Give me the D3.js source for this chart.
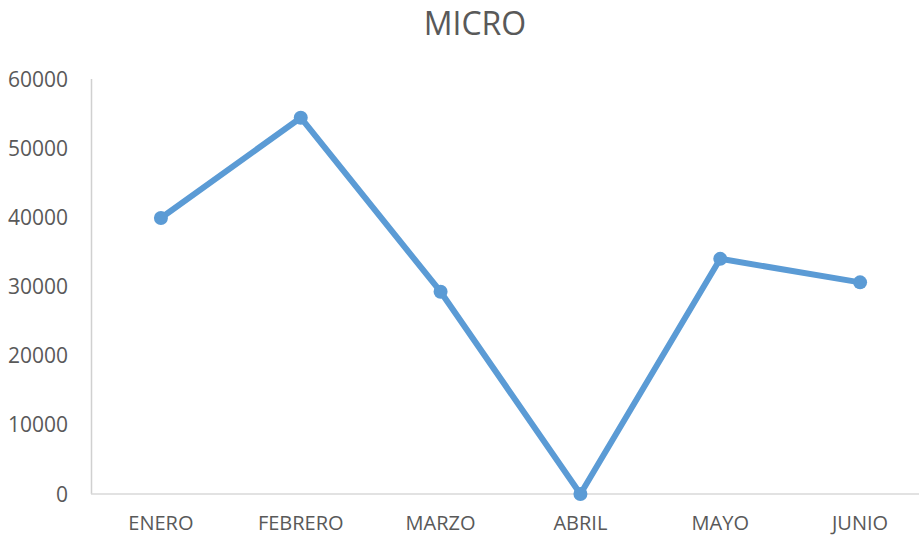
<!DOCTYPE html>
<html>
<head>
<meta charset="utf-8">
<script src="https://cdn.jsdelivr.net/npm/d3@7"></script>
<style>
	body { margin: 0; background: #fff; }
	text { font-family: "Open Sans", sans-serif; fill: #595959; }
</style>
</head>
<body>
<svg width="919" height="536"></svg>
<script>
var months = ["ENERO", "FEBRERO", "MARZO", "ABRIL", "MAYO", "JUNIO"];
var micro = [39900, 54400, 29250, 0, 34000, 30600];
var yTicks = [0, 10000, 20000, 30000, 40000, 50000, 60000];

var svg = d3.select("svg"),
	plotLeft = 91,
	plotRight = 930,
	plotTop = 79,
	plotBottom = 494;

var x = d3.scaleBand()
	.domain(months)
	.range([plotLeft, plotRight]);

var y = d3.scaleLinear()
	.domain([0, 60000])
	.range([plotBottom, plotTop]);

svg.append("text")
	.attr("x", 475)
	.attr("y", 35)
	.attr("text-anchor", "middle")
	.style("font-size", "32px")
	.text("MICRO");

// y labels
svg.selectAll(".ylab")
	.data(yTicks)
	.enter().append("text")
	.attr("class", "ylab")
	.attr("x", 68)
	.attr("y", function(d) { return y(d); })
	.attr("dy", "0.36em")
	.attr("text-anchor", "end")
	.style("font-size", "21px")
	.text(function(d) { return d; });

svg.append("line")
	.attr("x1", plotLeft + 0.5).attr("x2", plotLeft + 0.5)
	.attr("y1", plotTop).attr("y2", plotBottom)
	.attr("stroke", "#d0d0d0")
	.attr("stroke-width", 1.5);

svg.append("line")
	.attr("x1", plotLeft).attr("x2", plotRight)
	.attr("y1", plotBottom).attr("y2", plotBottom)
	.attr("stroke", "#d9d9d9")
	.attr("stroke-width", 1.5);

svg.selectAll(".xlab")
	.data(months)
	.enter().append("text")
	.attr("class", "xlab")
	.attr("x", function(d) { return x(d) + x.bandwidth() / 2; })
	.attr("y", 530)
	.attr("text-anchor", "middle")
	.style("font-size", "20px")
	.text(function(d) { return d; });

var line = d3.line()
	.x(function(d, i) { return x(months[i]) + x.bandwidth() / 2; })
	.y(function(d) { return y(d); });

svg.append("path")
	.datum(micro)
	.attr("d", line)
	.attr("fill", "none")
	.attr("stroke", "#5b9bd5")
	.attr("stroke-width", 6)
	.attr("stroke-linejoin", "round");

svg.selectAll(".dot")
	.data(micro)
	.enter().append("circle")
	.attr("class", "dot")
	.attr("cx", function(d, i) { return x(months[i]) + x.bandwidth() / 2; })
	.attr("cy", function(d) { return y(d); })
	.attr("r", 7)
	.attr("fill", "#5b9bd5");
</script>
</body>
</html>
